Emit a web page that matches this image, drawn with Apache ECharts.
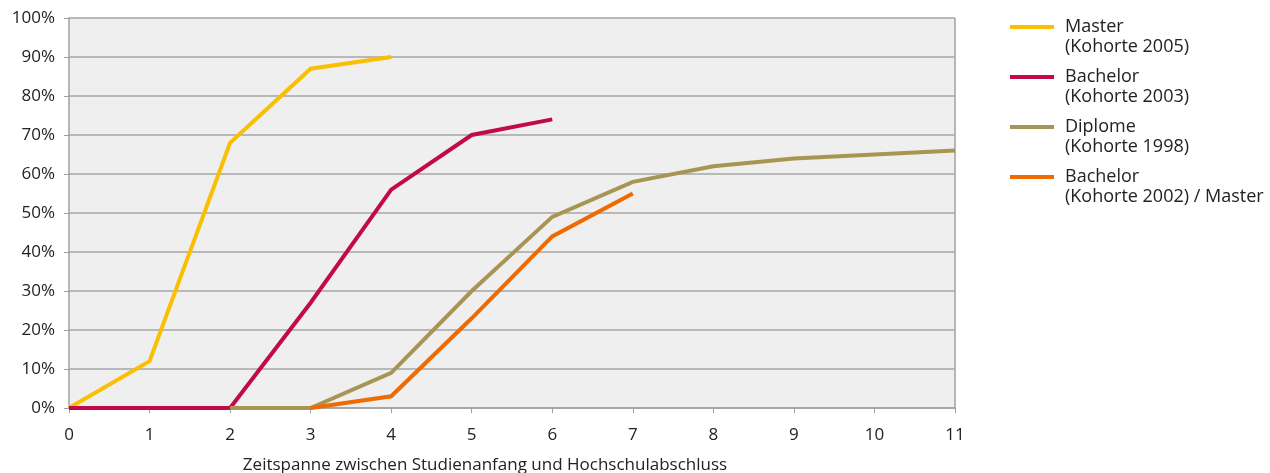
<!DOCTYPE html>
<html>
<head>
<meta charset="utf-8">
<script src="https://cdn.jsdelivr.net/npm/echarts@6/dist/echarts.min.js"></script>
<style>
  html, body { margin: 0; padding: 0; background: #ffffff; }
  #chart { width: 1270px; height: 473px; }
</style>
</head>
<body>
<div id="chart"></div>
<script>
// Anteil der Absolventen (in %) nach Jahren seit Studienbeginn
const years = [0, 1, 2, 3, 4, 5, 6, 7, 8, 9, 10, 11];
const seriesNames = [
  'Master\n(Kohorte 2005)',
  'Bachelor\n(Kohorte 2003)',
  'Diplome\n(Kohorte 1998)',
  'Bachelor\n(Kohorte 2002) / Master'
];
const masterValues   = [0, 12, 68, 87, 90];
const bachelor2003   = [0, 0, 0, 27, 56, 70, 74];
const diplomeValues  = [null, null, 0, 0, 9, 30, 49, 58, 62, 64, 65, 66];
const bachelor2002   = [null, null, null, 0, 3, 23, 44, 55];
const yTicks = [0, 10, 20, 30, 40, 50, 60, 70, 80, 90, 100];
const colors = ['#f9bf00', '#c20a4b', '#a99553', '#ef6a00'];

const toPairs = vals => vals.map((v, i) => [years[i], v]).filter(p => p[1] !== null);
const allValues = [masterValues, bachelor2003, diplomeValues, bachelor2002];

const font = "'Open Sans', 'DejaVu Sans', sans-serif";
const chart = echarts.init(document.getElementById('chart'), null, { renderer: 'canvas' });

// Legend on the right: coloured bar aligned with the first line of each two-line label
const legendTop = 27;
const legendStep = 50;
const legendGraphics = [];
seriesNames.forEach((name, i) => {
  const cy = legendTop + i * legendStep;
  legendGraphics.push({
    type: 'rect', silent: true,
    shape: { x: 1010, y: cy - 2, width: 44, height: 4 },
    style: { fill: colors[i] }
  });
  legendGraphics.push({
    type: 'text', silent: true,
    x: 1065, y: cy - 10,
    style: {
      text: name, fill: '#222', font: "18px " + font,
      lineHeight: 20, verticalAlign: 'top', align: 'left'
    }
  });
});

chart.setOption({
  animation: false,
  color: colors,
  grid: {
    left: 69, right: 315, top: 18, bottom: 65,
    outerBoundsMode: 'none', containLabel: false,
    show: true, backgroundColor: '#efefef', borderWidth: 0
  },
  legend: { show: false, data: seriesNames },
  xAxis: {
    type: 'value', min: 0, max: 11, interval: 1,
    name: 'Zeitspanne zwischen Studienanfang und Hochschulabschluss',
    nameLocation: 'middle', nameGap: 49,
    nameTextStyle: { fontFamily: font, fontSize: 17, color: '#222', padding: [0, 54, 0, 0] },
    axisLine: { show: true, lineStyle: { color: '#a0a0a0', width: 1.5 } },
    axisTick: { show: true, length: 5, lineStyle: { color: '#a0a0a0' } },
    axisLabel: { fontFamily: font, fontSize: 17, color: '#222', margin: 19 },
    splitLine: { show: false }
  },
  yAxis: {
    type: 'value', min: 0, max: 100, interval: 10,
    axisLine: { show: true, lineStyle: { color: '#a0a0a0', width: 1.5 } },
    axisTick: { show: true, length: 5, lineStyle: { color: '#a0a0a0' } },
    axisLabel: {
      fontFamily: font, fontSize: 17, color: '#222', margin: 14,
      formatter: v => (yTicks.includes(v) ? v + '%' : '')
    },
    splitLine: { show: true, lineStyle: { color: '#a6a6a6', width: 1.5 } }
  },
  graphic: [{
    type: 'line', silent: true,
    shape: { x1: 955, y1: 18, x2: 955, y2: 408 },
    style: { stroke: '#a0a0a0', lineWidth: 1.5 }
  }].concat(legendGraphics),
  series: allValues.map((vals, i) => ({
    name: seriesNames[i],
    type: 'line',
    data: toPairs(vals),
    symbol: 'none',
    lineStyle: { width: 4, color: colors[i], cap: 'butt', join: 'miter' },
    itemStyle: { color: colors[i] }
  }))
});
</script>
</body>
</html>
